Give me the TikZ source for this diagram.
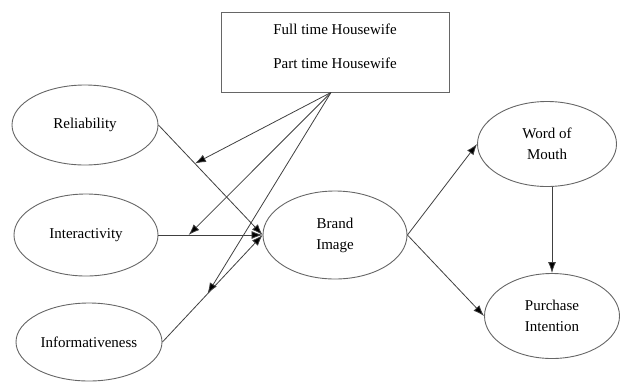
\documentclass[tikz,border=0pt]{standalone}
\usepackage{fontspec}
\setmainfont{Liberation Serif}
\usetikzlibrary{shapes.geometric, arrows.meta, positioning}

\begin{document}
\begin{tikzpicture}[x=1pt,y=-1pt,
	every node/.style={font=\fontsize{15}{21}\selectfont},
	construct/.style={ellipse,draw=black!60,line width=0.9pt,inner sep=0pt,align=center},
	group/.style={rectangle,draw=black!60,line width=0.9pt,minimum width=228pt,minimum height=80pt,text depth=11pt,align=center},
	link/.style={draw=black!75,line width=0.8pt,-{Latex[length=11pt,width=8pt,fill=black]}}]
	\useasboundingbox (0,0) rectangle (620,381);

	\draw (335,52) node[group] (hh) {Full time Housewife\\[13pt]Part time Housewife}
		(85,125) node[construct,minimum width=146pt,minimum height=80pt] (rel) {Reliability}
		(86,235) node[construct,minimum width=144pt,minimum height=82pt] (inter) {Interactivity}
		(89,342) node[construct,minimum width=146pt,minimum height=78pt] (info) {Informativeness}
		(335,235) node[construct,minimum width=144pt,minimum height=88pt] (brand) {Brand\\Image}
		(547,144) node[construct,minimum width=139pt,minimum height=85pt] (wom) {Word of\\Mouth}
		(552,316) node[construct,minimum width=135pt,minimum height=85pt] (pi) {Purchase\\Intention};

	% points where the moderator meets the paths
	\path (rel.east) -- (brand.west) coordinate[pos=0.35] (m1);
	\path (inter.east) -- (brand.west) coordinate[pos=0.29] (m2);
	\path (info.east) -- (brand.west) coordinate[pos=0.45] (m3);
	\coordinate (hb) at ([xshift=-4pt]hh.south);

	\draw[link] (rel.east) -- (brand.west);
	\draw[link] (inter.east) -- (brand.west);
	\draw[link] (info.east) -- (brand.west);
	\draw[link] (hb) -- (m1);
	\draw[link] (hb) -- (m2);
	\draw[link] (hb) -- (m3);
	\draw[link] (brand.east) -- (wom.west);
	\draw[link] (brand.east) -- (pi.west);
	\draw[link] (wom.south -| pi.north) -- (pi.north);
\end{tikzpicture}
\end{document}
